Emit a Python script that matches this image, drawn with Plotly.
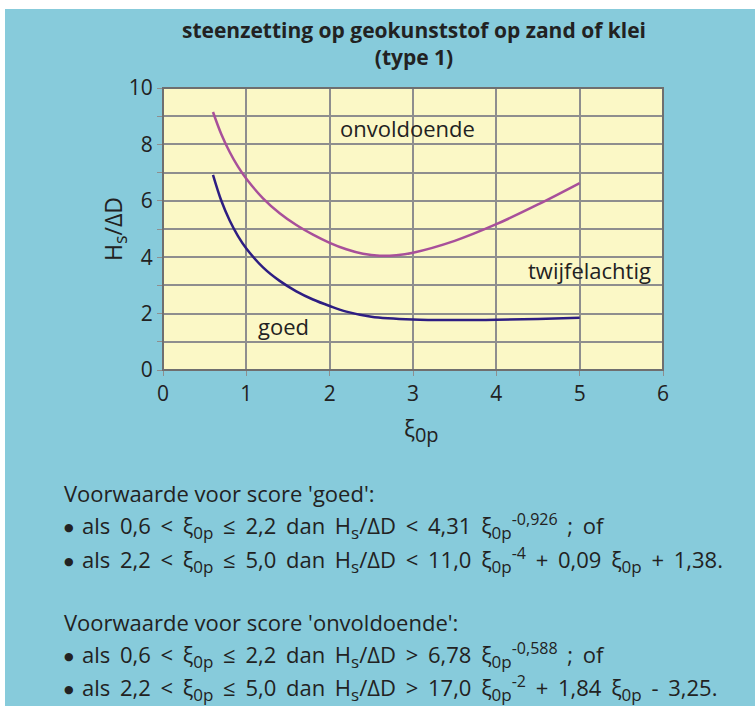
import plotly.graph_objects as go

# Boundary curves (xi_0p, Hs/ΔD)
xi_goed = [0.6, 0.7, 0.8, 0.9, 1.0, 1.2, 1.4, 1.6, 1.8, 2.0, 2.2, 2.5, 3.0, 3.5, 4.0, 4.5, 5.0]
hs_goed = [6.92, 6.00, 5.30, 4.75, 4.31, 3.64, 3.16, 2.79, 2.50, 2.27, 2.07, 1.89, 1.79, 1.77, 1.78, 1.81, 1.85]

xi_onv = [0.6, 0.7, 0.8, 0.9, 1.0, 1.2, 1.4, 1.6, 1.8, 2.0, 2.2, 2.4, 2.6, 2.8, 3.0, 3.5, 4.0, 4.5, 5.0]
hs_onv = [9.15, 8.36, 7.73, 7.21, 6.78, 6.09, 5.56, 5.14, 4.80, 4.51, 4.28, 4.12, 4.05, 4.07, 4.16, 4.58, 5.17, 5.87, 6.63]

x_ticks = [0, 1, 2, 3, 4, 5, 6]
y_ticks = [0, 1, 2, 3, 4, 5, 6, 7, 8, 9, 10]
y_labels = ["0", "", "2", "", "4", "", "6", "", "8", "", "10"]

BG = "#87cbdb"
PLOT_BG = "#fbf8c6"
GRID = "#8e8e8e"
TXT = "#222222"
FONT = "Open Sans"

fig = go.Figure()
fig.add_trace(go.Scatter(x=xi_onv, y=hs_onv, mode="lines", line=dict(color="#a8509a", width=2.5, shape="spline"),
                         hoverinfo="skip", showlegend=False))
fig.add_trace(go.Scatter(x=xi_goed, y=hs_goed, mode="lines", line=dict(color="#2e1e82", width=2.5, shape="spline"),
                         hoverinfo="skip", showlegend=False))

W, H = 755, 706
L, R, T, B = 163, 92, 88, 336
pw, ph = W - L - R, H - T - B


def px(x):
    return (x - L) / pw


def py(y):
    return (H - B - y) / ph


def sub(t, size=17):
    return f'<sub><span style="font-size:{size}px">{t}</span></sub>'


def sup(t, size=16):
    return f'<sup><span style="font-size:{size}px">{t}</span></sup>'


ann = []
# in-plot region labels
lab = dict(size=22, color=TXT, family=FONT)
ann.append(dict(x=2.93, y=8.58, xref="x", yref="y", text="onvoldoende", showarrow=False, font=lab))
ann.append(dict(x=5.12, y=3.55, xref="x", yref="y", text="twijfelachtig", showarrow=False, font=lab))
ann.append(dict(x=1.44, y=1.56, xref="x", yref="y", text="goed", showarrow=False, font=lab))

# title
ann.append(dict(x=px(414), y=py(43), xref="paper", yref="paper", showarrow=False, xanchor="center",
                text="<b>steenzetting op geokunststof op zand of klei<br>(type 1)</b>",
                font=dict(size=21, color=TXT, family=FONT), yanchor="middle"))

# axis titles
ann.append(dict(x=px(114), y=py(229), xref="paper", yref="paper", showarrow=False, textangle=-90,
                xanchor="center", yanchor="middle",
                text="H" + sub("s", 18) + "/ΔD", font=dict(size=23, color=TXT, family=FONT)))
ann.append(dict(x=px(421), y=py(430), xref="paper", yref="paper", showarrow=False,
                xanchor="center", yanchor="middle",
                text="ξ" + sub("0p", 20), font=dict(size=23, color=TXT, family=FONT)))

xi = "ξ" + sub("0p")
hs = "H" + sub("s") + "/ΔD"
headers = [
    (493, "Voorwaarde voor score 'goed':"),
    (622, "Voorwaarde voor score 'onvoldoende':"),
]
bullets = [
    (526, f"als 0,6 &lt; {xi} ≤ 2,2 dan {hs} &lt; 4,31 {xi}{sup('-0,926')} ; of"),
    (560, f"als 2,2 &lt; {xi} ≤ 5,0 dan {hs} &lt; 11,0 {xi}{sup('-4')} + 0,09 {xi} + 1,38."),
    (655, f"als 0,6 &lt; {xi} ≤ 2,2 dan {hs} &gt; 6,78 {xi}{sup('-0,588')} ; of"),
    (688, f"als 2,2 &lt; {xi} ≤ 5,0 dan {hs} &gt; 17,0 {xi}{sup('-2')} + 1,84 {xi} - 3,25."),
]
body = dict(size=22, color=TXT, family=FONT)
for yy, t in headers:
    ann.append(dict(x=px(62), y=py(yy), xref="paper", yref="paper", showarrow=False, xanchor="left",
                    yanchor="middle", align="left", text=t, font=body))
for yy, t in bullets:
    ann.append(dict(x=px(69), y=py(yy + 1), xref="paper", yref="paper", showarrow=False, xanchor="center",
                    yanchor="middle", text="●", font=dict(size=11, color=TXT, family="DejaVu Sans")))
    ann.append(dict(x=px(80), y=py(yy), xref="paper", yref="paper", showarrow=False, xanchor="left",
                    yanchor="middle", align="left",
                    text=f'<span style="word-spacing:4px">{t}</span>', font=body))

shapes = [
    # white margin along the top and left edge
    dict(type="rect", xref="paper", yref="paper", x0=px(0), x1=px(W), y0=py(9), y1=py(0),
         fillcolor="white", line=dict(width=0)),
    dict(type="rect", xref="paper", yref="paper", x0=px(0), x1=px(5), y0=py(H), y1=py(0),
         fillcolor="white", line=dict(width=0)),
    # plot frame
    dict(type="rect", xref="paper", yref="paper", x0=0, x1=1, y0=0, y1=1,
         line=dict(color="#6f6f6f", width=2)),
]

fig.update_layout(
    width=W, height=H,
    margin=dict(l=L, r=R, t=T, b=B),
    paper_bgcolor=BG, plot_bgcolor=PLOT_BG,
    font=dict(family=FONT, color=TXT, size=20),
    annotations=ann, shapes=shapes,
    xaxis=dict(range=[0, 6], tickvals=x_ticks, showgrid=True, gridcolor=GRID, gridwidth=1.5,
               ticks="outside", ticklen=5, tickcolor=GRID, zeroline=False, showline=False,
               tickfont=dict(size=21, color=TXT, family=FONT), fixedrange=True),
    yaxis=dict(range=[0, 10], tickvals=y_ticks, ticktext=y_labels, showgrid=True, gridcolor=GRID, gridwidth=1.5,
               ticks="outside", ticklen=5, tickcolor=GRID, zeroline=False, showline=False,
               tickfont=dict(size=21, color=TXT, family=FONT), fixedrange=True),
)

fig.write_html("out.html")
